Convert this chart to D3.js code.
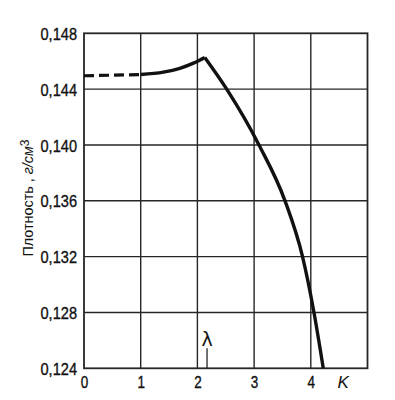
<!DOCTYPE html>
<html><head><meta charset="utf-8">
<script src="https://cdn.jsdelivr.net/npm/d3@7"></script>
<style>
html,body{margin:0;padding:0;background:#fff;}
svg{display:block;}
.num{font-family:"Liberation Sans",Arial,sans-serif;font-size:17px;fill:#111;stroke:#111;stroke-width:0.35px;}
</style>
</head><body>
<svg id="c" width="395" height="400"></svg>
<script>
// ---- data ----
const xTicks = [0, 1, 2, 3, 4];
const xTickLabels = ["0", "1", "2", "3", "4"];
const yTicks = [0.124, 0.128, 0.132, 0.136, 0.140, 0.144, 0.148];
const yTickLabels = ["0,124", "0,128", "0,132", "0,136", "0,140", "0,144", "0,148"];
const xGrid = [1, 2, 3, 4];
const yGrid = [0.128, 0.132, 0.136, 0.140, 0.144];
// extrapolated (dashed) part
const dashedK = [0, 1];
const dashedDensity = [0.14496, 0.14504];
// rising part up to lambda point
const riseK = [1, 1.4, 1.69, 1.93, 2.13];
const riseDensity = [0.14505, 0.14522, 0.14549, 0.14586, 0.14627];
// falling part above lambda point
const fallK = [2.13, 2.517, 3.086, 3.545, 3.854, 4.056, 4.22];
const fallDensity = [0.14627, 0.1440, 0.1400, 0.1360, 0.1320, 0.1280, 0.1240];
const lambdaK = 2.17;
const xTitle = "K";
const yTitleMain = "Плотность , ";
const yTitleUnit = "г/см";
const yTitleSup = "3";

// ---- layout ----
const svg = d3.select("#c");
const L = 84, R = 367.5, T = 33.3, B = 368.3;
const x = d3.scaleLinear().domain([0, 5]).range([L, R]);
const y = d3.scaleLinear().domain([0.124, 0.148]).range([B, T]);
const ink = "#262626";

// grid
svg.append("g").selectAll("line").data(xGrid).join("line")
  .attr("x1", d => x(d)).attr("x2", d => x(d)).attr("y1", T).attr("y2", B)
  .attr("stroke", ink).attr("stroke-width", 1.4);
svg.append("g").selectAll("line").data(yGrid).join("line")
  .attr("y1", d => y(d)).attr("y2", d => y(d)).attr("x1", L).attr("x2", R)
  .attr("stroke", ink).attr("stroke-width", 1.4);
// frame
svg.append("rect").attr("x", L).attr("y", T).attr("width", R - L).attr("height", B - T)
  .attr("fill", "none").attr("stroke", ink).attr("stroke-width", 1.8);

// y axis labels via d3 axis
const yAxis = d3.axisLeft(y).tickValues(yTicks)
  .tickFormat((d, i) => yTickLabels[i]).tickSize(0).tickPadding(7);
const gy = svg.append("g").attr("transform", `translate(${L},0)`).call(yAxis);
gy.select(".domain").remove();
gy.attr("font-size", null).attr("font-family", null);
gy.selectAll("text").attr("class", "num").attr("dy", "0.36em").attr("fill", null)
  .attr("textLength", 36.5).attr("lengthAdjust", "spacingAndGlyphs");

// x axis labels
const xAxis = d3.axisBottom(x).tickValues(xTicks)
  .tickFormat((d, i) => xTickLabels[i]).tickSize(0).tickPadding(0);
const gx = svg.append("g").attr("transform", `translate(0,${B})`).call(xAxis);
gx.select(".domain").remove();
gx.attr("font-size", null).attr("font-family", null);
gx.selectAll("text").attr("class", "num").attr("y", 20).attr("dy", 0).attr("fill", null)
  .attr("textLength", 7.5).attr("lengthAdjust", "spacingAndGlyphs");

svg.append("text").attr("x", x(4.57)).attr("y", 388)
  .attr("text-anchor", "middle")
  .attr("font-family", "Liberation Sans, sans-serif").attr("font-style", "italic")
  .attr("font-size", 17).attr("fill", "#111").text(xTitle);

// y title
const yt = svg.append("text")
  .attr("transform", `translate(33,198) rotate(-90)`)
  .attr("text-anchor", "middle")
  .attr("font-family", "Liberation Sans, Arial, sans-serif")
  .attr("font-size", 15.5).attr("fill", "#111")
  .attr("textLength", 117).attr("lengthAdjust", "spacingAndGlyphs");
yt.append("tspan").text(yTitleMain);
yt.append("tspan").attr("font-style", "italic").text(yTitleUnit);
yt.append("tspan").attr("dy", -4).attr("font-size", 13).text(yTitleSup);

// lambda marker
svg.append("line").attr("x1", x(lambdaK)).attr("x2", x(lambdaK))
  .attr("y1", B - 20).attr("y2", B).attr("stroke", ink).attr("stroke-width", 1.3);
svg.append("text").attr("x", x(lambdaK)).attr("y", 346)
  .attr("text-anchor", "middle").attr("font-family", "DejaVu Sans, sans-serif")
  .attr("font-size", 19).attr("fill", "#111").text("λ");

// curves
const line = d3.line().x(d => x(d[0])).y(d => y(d[1])).curve(d3.curveMonotoneX);
svg.append("path").datum(d3.zip(dashedK, dashedDensity)).attr("d", line)
  .attr("fill", "none").attr("stroke", "#111").attr("stroke-width", 3.2)
  .attr("stroke-dasharray", "10,5");
svg.append("path").datum(d3.zip(riseK, riseDensity)).attr("d", line)
  .attr("fill", "none").attr("stroke", "#111").attr("stroke-width", 3.4);
svg.append("path").datum(d3.zip(fallK, fallDensity)).attr("d", line)
  .attr("fill", "none").attr("stroke", "#111").attr("stroke-width", 3.4);
</script>
</body></html>
